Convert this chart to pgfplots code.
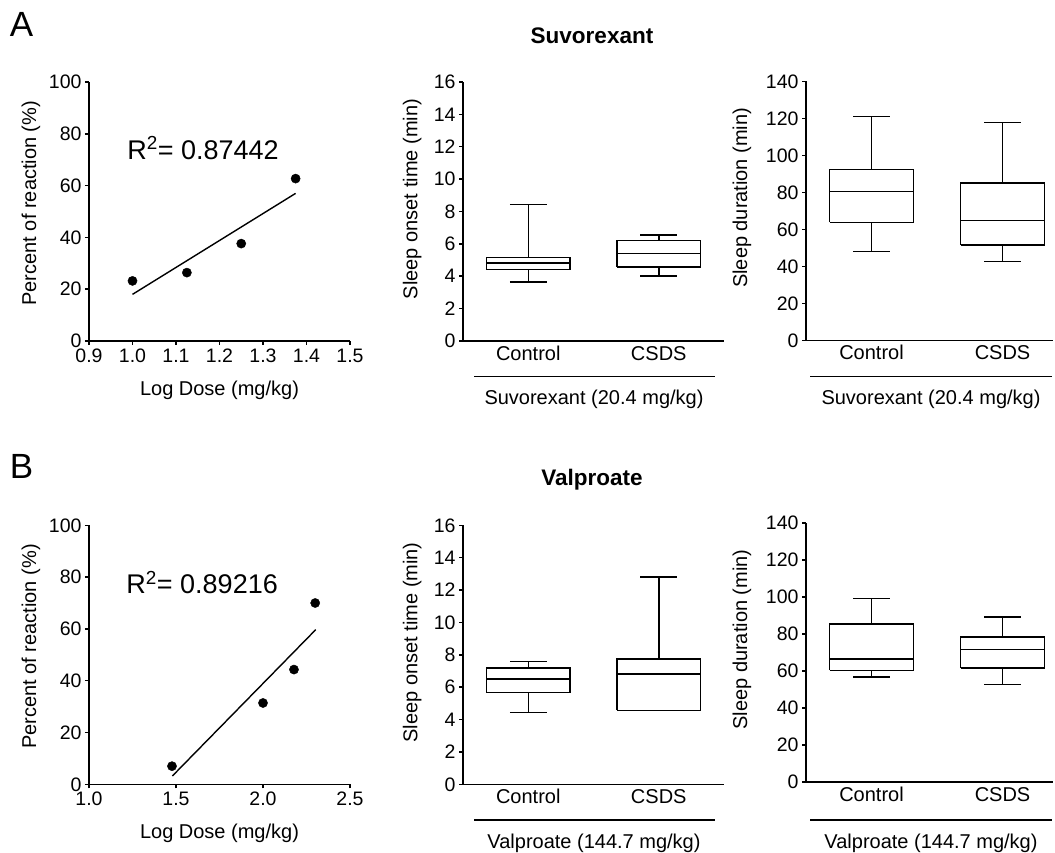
\documentclass[border=0pt]{standalone}
\usepackage{fontspec}
\setmainfont{Liberation Sans}
\usepackage{pgfplots}
\pgfplotsset{compat=1.18}
\newcommand\fs{\fontsize{20}{24}\selectfont}
\newcommand\ft{\fontsize{19.5}{23}\selectfont}

\pgfplotsset{
  panel/.style={
    scale only axis,
    axis x line*=bottom, axis y line*=left,
    axis line style={line width=1.5pt,-},
    tick align=outside, major tick length=4pt,
    tick style={line width=1.5pt,black},
    ticklabel style={font=\ft, inner sep=1pt},
    yticklabel style={xshift=-2.3pt},
    label style={font=\fs},
    /pgf/number format/assume math mode=true,
    enlargelimits=false, clip=false,
  },
  scat/.style={panel, width=261pt, height=259pt, ymin=0, ymax=100,
    ytick distance=20, ylabel={Percent of reaction (\%)},
    xlabel={Log Dose (mg/kg)},
    ylabel style={at={(axis description cs:-0.222,0.532)}, anchor=center},
    xlabel style={at={(axis description cs:0.5,-0.189)}, anchor=center},
    xticklabel style={yshift=-2.8pt, /pgf/number format/.cd,fixed,fixed zerofill,precision=1}},
  boxp/.style={panel, height=259pt, xmin=0.5, xtick={1,2},
    xticklabels={Control,CSDS}, major x tick style={draw=none},
    xticklabel style={font=\fs, text height=14.5pt, text depth=0pt, yshift=0pt}},
  bx/.style={black, line width=1.5pt, solid, line join=miter},
}

% box with whiskers: position, lower whisker, lower quartile, median, upper quartile, upper whisker
\newcommand\bplot[6]{%
  \pgfmathsetmacro\bl{#1-0.32}\pgfmathsetmacro\br{#1+0.32}%
  \pgfmathsetmacro\wl{#1-0.14}\pgfmathsetmacro\wr{#1+0.14}%
  \edef\tmp{%
    \noexpand\addplot[bx] coordinates {(\bl,#3) (\br,#3) (\br,#5) (\bl,#5) (\bl,#3)};
    \noexpand\addplot[bx] coordinates {(\bl,#4) (\br,#4)};
    \noexpand\addplot[bx] coordinates {(#1,#5) (#1,#6)};
    \noexpand\addplot[bx] coordinates {(#1,#3) (#1,#2)};
    \noexpand\addplot[bx] coordinates {(\wl,#6) (\wr,#6)};
    \noexpand\addplot[bx] coordinates {(\wl,#2) (\wr,#2)};
  }\tmp}

\begin{document}
\begin{tikzpicture}
\path[use as bounding box] (0,0) rectangle (1055pt,853pt);

% ---------- row A ----------
\node[font=\fontsize{35}{38}\selectfont] at (21.5pt,829pt) {A};
\node[font=\fontsize{22.5}{26}\selectfont\bfseries] at (592pt,817pt) {Suvorexant};

\begin{axis}[scat, at={(89pt,512pt)}, anchor=south west,
  xmin=0.9, xmax=1.5, xtick distance=0.1]
\addplot[only marks, mark=*, mark size=4.6pt, black] coordinates {
(1.0,23.2) (1.125,26.4) (1.25,37.6) (1.375,62.7)};
\addplot[black, line width=1.4pt] coordinates {(1.0,18.0) (1.375,57.0)};
\node[anchor=west, font=\fontsize{27}{30}\selectfont] at (axis cs:0.98,74.5) {R\textsuperscript{2}= 0.87442};
\end{axis}

\begin{axis}[boxp, at={(463pt,512pt)}, anchor=south west, width=261pt,
  xmax=2.5, ymin=0, ymax=16, ytick distance=2, ylabel={Sleep onset time (min)},
  ylabel style={at={(axis description cs:-0.195,0.548)}, anchor=center}]
\bplot{1}{3.63}{4.43}{4.82}{5.17}{8.42}
\bplot{2}{4.01}{4.57}{5.42}{6.22}{6.55}
\end{axis}

\begin{axis}[boxp, at={(806pt,512.7pt)}, anchor=south west, width=247pt,
  xmax=2.385, ymin=0, ymax=140, ytick distance=20, ylabel={Sleep duration (min)},
  ylabel style={at={(axis description cs:-0.259,0.55)}, anchor=center}]
\bplot{1}{48.0}{63.8}{80.5}{92.4}{121.0}
\bplot{2}{42.6}{51.6}{64.7}{85.0}{117.6}
\end{axis}

\draw[line width=1.4pt] (474pt,476.3pt) -- (715pt,476.3pt);
\draw[line width=1.4pt] (810pt,476.3pt) -- (1052pt,476.3pt);
\node[font=\fs] at (594pt,454pt) {Suvorexant (20.4 mg/kg)};
\node[font=\fs] at (931pt,454pt) {Suvorexant (20.4 mg/kg)};

% ---------- row B ----------
\node[font=\fontsize{35}{38}\selectfont] at (21.5pt,387pt) {B};
\node[font=\fontsize{22.5}{26}\selectfont\bfseries] at (592pt,373pt) {Valproate};

\begin{axis}[scat, at={(89pt,68.7pt)}, anchor=south west,
  xmin=1.0, xmax=2.5, xtick distance=0.5]
\addplot[only marks, mark=*, mark size=4.6pt, black] coordinates {
(1.477,7.0) (2.0,31.4) (2.178,44.3) (2.30,70.0)};
\addplot[black, line width=1.4pt] coordinates {(1.479,3.2) (2.303,59.7)};
\node[anchor=west, font=\fontsize{27}{30}\selectfont] at (axis cs:1.195,77.9) {R\textsuperscript{2}= 0.89216};
\end{axis}

\begin{axis}[boxp, at={(463pt,68.7pt)}, anchor=south west, width=261pt,
  xmax=2.5, ymin=0, ymax=16, ytick distance=2, ylabel={Sleep onset time (min)},
  ylabel style={at={(axis description cs:-0.195,0.548)}, anchor=center}]
\bplot{1}{4.43}{5.66}{6.5}{7.18}{7.6}
\bplot{2}{4.57}{4.57}{6.8}{7.73}{12.8}
\end{axis}

\begin{axis}[boxp, at={(806pt,71pt)}, anchor=south west, width=247pt,
  xmax=2.385, ymin=0, ymax=140, ytick distance=20, ylabel={Sleep duration (min)},
  ylabel style={at={(axis description cs:-0.259,0.55)}, anchor=center}]
\bplot{1}{56.7}{60.3}{66.6}{85.5}{99.2}
\bplot{2}{52.8}{61.6}{71.5}{78.5}{89.1}
\end{axis}

\draw[line width=1.4pt] (474pt,33pt) -- (715pt,33pt);
\draw[line width=1.4pt] (810pt,33pt) -- (1052pt,33pt);
\node[font=\fs] at (594pt,10pt) {Valproate (144.7 mg/kg)};
\node[font=\fs] at (931pt,10pt) {Valproate (144.7 mg/kg)};
\end{tikzpicture}
\end{document}
